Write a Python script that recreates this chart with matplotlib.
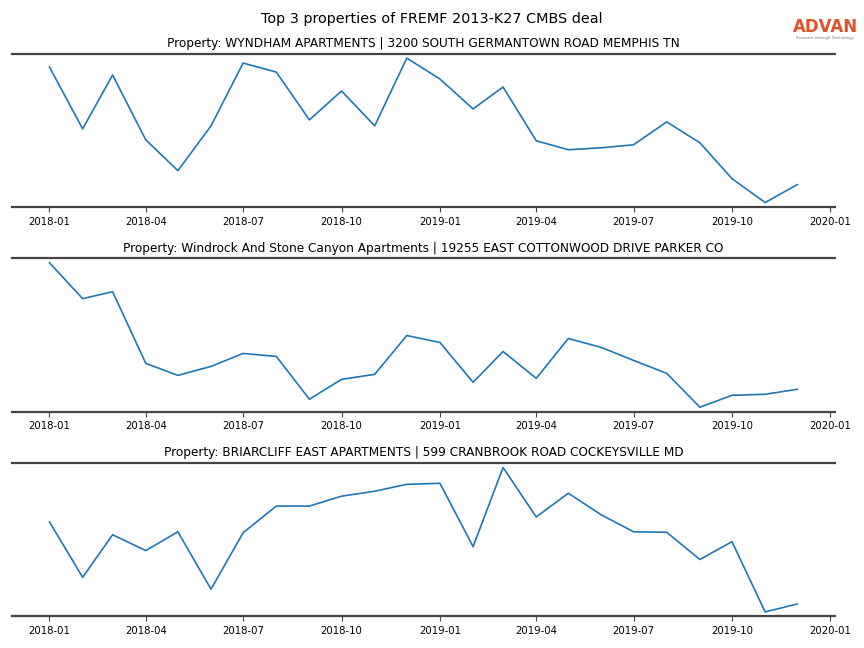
import numpy as np
import pandas as pd
import matplotlib
matplotlib.use("Agg")
import matplotlib.pyplot as plt
import matplotlib.dates as mdates

months = pd.date_range("2018-01-01", "2019-12-01", freq="MS")

titles = [
    "Property: WYNDHAM APARTMENTS | 3200 SOUTH GERMANTOWN ROAD MEMPHIS TN",
    "Property: Windrock And Stone Canyon Apartments | 19255 EAST COTTONWOOD DRIVE PARKER CO",
    "Property: BRIARCLIFF EAST APARTMENTS | 599 CRANBROOK ROAD COCKEYSVILLE MD",
]

# visit counts (relative units)
wyndham = [140, 78, 132, 67, 36, 81, 144, 135, 87, 116, 81, 149,
           128, 98, 120, 66, 57, 59, 62, 85, 64, 28, 4, 22]
windrock = [147, 111, 118, 46, 34, 43, 56, 53, 10, 30, 35, 74,
            67, 27, 58, 31, 71, 62, 49, 36, 2, 14, 15, 20]
briarcliff = [94, 38, 81, 65, 84, 26, 83, 110, 110, 120, 125, 132,
              133, 69, 149, 99, 123, 101, 84, 83.5, 56, 74, 3, 11]
series = [wyndham, windrock, briarcliff]

fig, axes = plt.subplots(3, 1, figsize=(8.64, 6.48), dpi=100)
plt.subplots_adjust(left=0.014, right=0.966, top=0.917, bottom=0.049, hspace=0.337)

for ax, vals, title in zip(axes, series, titles):
    ax.plot(months, vals, color="#1f77b4", linewidth=1.2)
    ax.margins(y=0.03)
    ax.set_title(title, fontsize=8.7, pad=5)
    ax.spines["left"].set_visible(False)
    ax.spines["right"].set_visible(False)
    for s in ["top", "bottom"]:
        ax.spines[s].set_color("#444444")
        ax.spines[s].set_linewidth(1.6)
    ax.set_yticks([])
    ax.xaxis.set_major_locator(mdates.MonthLocator(bymonth=[1, 4, 7, 10]))
    ax.xaxis.set_major_formatter(mdates.DateFormatter("%Y-%m"))
    ax.tick_params(axis="x", labelsize=7.3, length=3.5, color="#444444")

fig.suptitle("Top 3 properties of FREMF 2013-K27 CMBS deal", fontsize=10.4, y=0.982)

# logo
fig.text(0.955, 0.958, "ADVAN", color="#e0532a", fontsize=12, fontweight="semibold",
         ha="center", va="center")
fig.text(0.955, 0.941, "Research through Technology", color="#777777", fontsize=2.8,
         ha="center", va="center")

plt.savefig("out.png")
